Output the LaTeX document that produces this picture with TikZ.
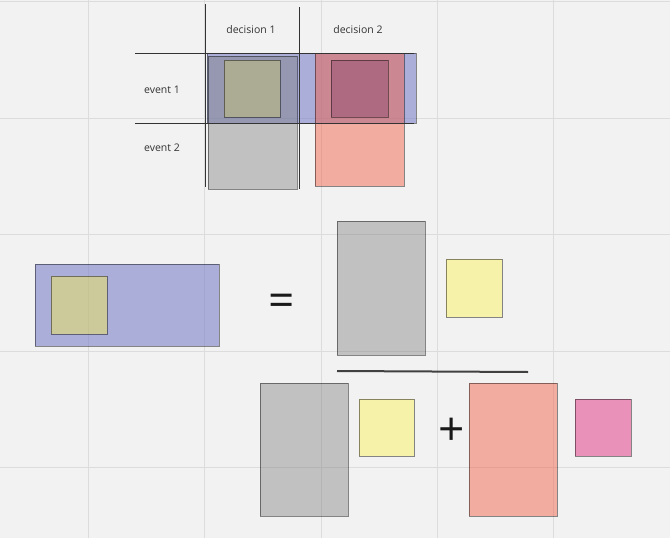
\documentclass[tikz,border=0pt]{standalone}
\usepackage{fontspec}
\setmainfont{Open Sans}
\definecolor{bgc}{HTML}{F2F2F2}
\definecolor{gridc}{HTML}{DCDCDC}
\definecolor{bluec}{HTML}{7A81C7}
\definecolor{grayc}{HTML}{787878}
\definecolor{salmonc}{HTML}{F25E44}
\definecolor{yellowc}{HTML}{FFF240}
\definecolor{pinkc}{HTML}{E991B8}
\definecolor{olivec}{HTML}{ACAC94}
\definecolor{crimc}{HTML}{AE6A80}
\definecolor{txtc}{HTML}{333333}
\tikzset{
  box/.style={draw=black, draw opacity=0.45, line width=1pt},
  bluebox/.style={box, fill=bluec, fill opacity=0.6},
  graybox/.style={box, fill=grayc, fill opacity=0.40},
  salmonbox/.style={box, fill=salmonc, fill opacity=0.47},
  yellowbox/.style={box, fill=yellowc, fill opacity=0.4},
  pinkbox/.style={box, fill=pinkc},
  tline/.style={draw=txtc, line width=1pt},
  lbl/.style={font=\fontsize{10.5}{12}\selectfont, text=txtc, inner sep=0pt},
  bigsym/.style={font=\fontsize{46}{50}\selectfont, text=black!90, inner sep=0pt},
  gridline/.style={draw=gridc, line width=1pt}
}
\begin{document}
\begin{tikzpicture}[x=1pt,y=-1pt]
\useasboundingbox (0,0) rectangle (670,538);
\fill[bgc] (0,0) rectangle (670,538);
% grid
\foreach \gx in {88,204.5,321,437,553.5}
  \draw[gridline] (\gx,0) -- (\gx,538);
\foreach \gy in {1.5,118,234.5,351,467.5}
  \draw[gridline] (0,\gy) -- (670,\gy);

% ---- top table ----
\draw[bluebox] (207,53) rectangle (416,123);
\draw[graybox] (208,56) rectangle (297,189);
\draw[salmonbox] (315,53) rectangle (404,186);
\draw[box, fill=olivec] (224,60) rectangle (280,117);
\draw[box, fill=crimc] (331,60) rectangle (388,117);

\coordinate (h1a) at (135,53);  \coordinate (h1b) at (414,53);
\coordinate (h2a) at (135,123); \coordinate (h2b) at (414,123);
\coordinate (v1a) at (205,4);   \coordinate (v1b) at (205,187);
\coordinate (v2a) at (299,7);   \coordinate (v2b) at (299,189);
\draw[tline] (h1a) -- (h1b);
\draw[tline] (h2a) -- (h2b);
\draw[tline] (v1a) -- (v1b);
\draw[tline] (v2a) -- (v2b);

\node[lbl] (d1) at (251,29.5) {decision 1};
\node[lbl] (d2) at (358,29.5) {decision 2};
\node[lbl] (e1) at (162,89.5) {event 1};
\node[lbl] (e2) at (162,147.5) {event 2};

% ---- lower equation ----
\draw[bluebox] (35,264) rectangle (219,346);
\draw[yellowbox] (51,276) rectangle (107,334);

\node[bigsym] (eq) at (282,305) {=};

\draw[graybox] (337,221) rectangle (425,355);
\draw[yellowbox] (446,259) rectangle (502,317);

\coordinate (fa) at (337,371);
\coordinate (fb) at (528,372);
\draw[draw=black!75, line width=2pt] (fa) -- (fb);

\draw[graybox] (260,383) rectangle (348,516);
\draw[yellowbox] (359,399) rectangle (414,456);
\node[bigsym] (plus) at (452,432) {+};
\draw[salmonbox] (469,383) rectangle (557,516);
\draw[pinkbox] (575,399) rectangle (631,456);
\end{tikzpicture}
\end{document}
